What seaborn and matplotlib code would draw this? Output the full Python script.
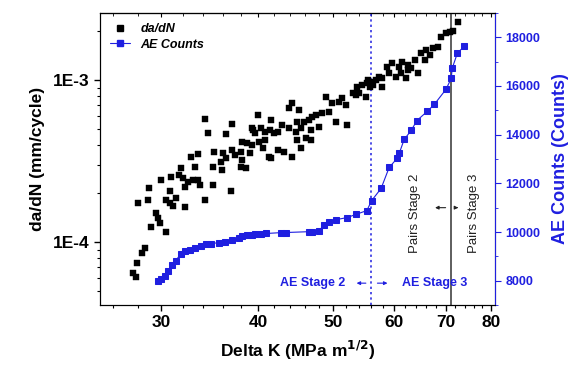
import numpy as np
import pandas as pd
import matplotlib
matplotlib.use("Agg")
import matplotlib.pyplot as plt
import seaborn as sns
from matplotlib.ticker import FixedLocator, FixedFormatter, NullFormatter, LogLocator, MultipleLocator
from matplotlib.lines import Line2D

# crack growth rate data
dk_crack = [27.6, 27.8, 27.9, 28.0, 28.3, 28.6, 28.8, 28.9, 29.1, 29.5, 29.7, 29.9, 30.0, 30.4, 30.45,
            30.8, 30.8, 30.9, 31.1, 31.35, 31.6, 31.8, 32.0, 32.2, 32.2, 32.5, 32.8, 33.0, 33.2, 33.5,
            33.5, 33.7, 34.2, 34.2, 34.5, 35.0, 35.0, 35.1, 35.8, 35.9, 36.0, 36.4, 36.4, 36.9, 37.0,
            37.0, 37.4, 38.0, 38.0, 38.1, 38.1, 38.6, 38.7, 39.1, 39.3, 39.3, 39.4, 39.7, 40.0, 40.1,
            40.4, 40.6, 40.9, 40.9, 41.3, 41.5, 41.6, 41.6, 41.9, 42.5, 42.5, 42.9, 43.2, 43.8, 43.8,
            44.2, 44.2, 44.8, 44.9, 44.9, 45.2, 45.4, 45.4, 45.9, 46.1, 46.6, 46.8, 46.8, 47.0, 47.5,
            48.0, 48.4, 49.0, 49.4, 49.8, 50.5, 50.9, 51.4, 52.0, 52.1, 53.1, 53.5, 53.7, 54.0, 54.5,
            55.1, 55.3, 55.5, 55.9, 56.1, 56.4, 56.8, 57.3, 57.8, 57.8, 58.7, 59.1, 59.6, 60.3, 60.9,
            61.2, 61.4, 62.2, 62.6, 62.6, 63.1, 63.9, 64.4, 65.0, 65.7, 65.9, 66.8, 67.4, 68.4, 69.0,
            70.0, 70.9, 71.5, 72.6]
dadn = [6.5e-5, 6.1e-5, 7.5e-5, 1.74e-4, 8.6e-5, 9.2e-5, 1.82e-4, 2.15e-4, 1.24e-4, 1.51e-4, 1.41e-4,
        1.31e-4, 2.41e-4, 1.15e-4, 1.82e-4, 1.74e-4, 2.06e-4, 2.52e-4, 1.67e-4, 1.87e-4, 2.59e-4,
        2.86e-4, 2.48e-4, 2.19e-4, 1.64e-4, 2.35e-4, 3.35e-4, 2.41e-4, 2.90e-4, 3.49e-4, 2.41e-4,
        2.25e-4, 5.74e-4, 1.82e-4, 4.71e-4, 2.90e-4, 2.25e-4, 3.59e-4, 3.12e-4, 2.78e-4, 3.54e-4,
        4.64e-4, 3.30e-4, 2.06e-4, 5.35e-4, 3.70e-4, 3.44e-4, 3.59e-4, 2.90e-4, 4.14e-4, 3.21e-4,
        2.86e-4, 4.08e-4, 3.54e-4, 5.05e-4, 3.97e-4, 4.91e-4, 4.71e-4, 6.08e-4, 4.14e-4, 5.05e-4,
        3.80e-4, 4.78e-4, 4.26e-4, 3.35e-4, 4.91e-4, 5.66e-4, 3.30e-4, 4.71e-4, 4.78e-4, 3.70e-4,
        5.27e-4, 3.59e-4, 6.72e-4, 5.05e-4, 7.21e-4, 3.35e-4, 4.78e-4, 5.51e-4, 4.26e-4, 6.53e-4,
        5.05e-4, 3.80e-4, 5.51e-4, 4.39e-4, 5.66e-4, 4.91e-4, 4.26e-4, 5.91e-4, 6.08e-4, 5.13e-4,
        6.26e-4, 7.85e-4, 6.35e-4, 7.21e-4, 5.51e-4, 7.32e-4, 7.74e-4, 7.01e-4, 5.27e-4, 8.31e-4,
        8.08e-4, 9.05e-4, 8.31e-4, 9.31e-4, 7.85e-4, 9.58e-4, 1.00e-3, 9.05e-4, 9.72e-4, 9.31e-4,
        1.00e-3, 1.04e-3, 1.03e-3, 9.05e-4, 1.20e-3, 1.10e-3, 1.27e-3, 1.04e-3, 1.20e-3, 1.10e-3,
        1.29e-3, 1.03e-3, 1.24e-3, 1.15e-3, 1.19e-3, 1.33e-3, 1.10e-3, 1.47e-3, 1.33e-3, 1.53e-3,
        1.43e-3, 1.58e-3, 1.60e-3, 1.84e-3, 1.95e-3, 1.98e-3, 2.01e-3, 2.28e-3]

# acoustic emission cumulative counts
dk_ae = [29.7, 30.0, 30.3, 30.6, 31.0, 31.3, 31.8, 32.2, 32.7, 33.2, 33.8, 34.3, 34.8, 35.6, 36.3,
         37.0, 37.8, 38.1, 38.7, 39.3, 39.7, 40.3, 41.0, 42.8, 43.5, 46.6, 47.0, 48.0, 48.7, 49.4,
         50.5, 52.1, 53.5, 55.3, 56.1, 57.7, 59.1, 60.5, 60.9, 61.8, 63.1, 64.2, 66.2, 67.6, 70.0,
         71.1, 71.3, 72.4, 73.9]
ae_counts = [8000, 8080, 8210, 8410, 8660, 8820, 9110, 9235, 9275, 9360, 9440, 9520, 9525, 9565, 9605,
             9690, 9770, 9850, 9890, 9895, 9930, 9935, 9940, 9975, 9980, 10015, 10020, 10060, 10300,
             10430, 10510, 10590, 10720, 10880, 11290, 11790, 12650, 13020, 13230, 13800, 14170, 14580,
             14955, 15240, 15860, 16310, 16720, 17340, 17630]

x_ticks = [30, 40, 50, 60, 70, 80]
y_ticks = [1e-4, 1e-3]
y_labels = ["1E-4", "1E-3"]
ae_ticks = [8000, 10000, 12000, 14000, 16000, 18000]

ae_line = 56
pairs_line = 71

blue = "#1f1fe0"

sns.set_style("ticks")
plt.rcParams["font.family"] = ["Liberation Sans", "DejaVu Sans"]
plt.rcParams["font.weight"] = "bold"
for key in ["text.color", "axes.labelcolor", "xtick.color", "ytick.color", "axes.edgecolor"]:
    plt.rcParams[key] = "black"

crack = pd.DataFrame({"dk": dk_crack, "dadn": dadn})
ae = pd.DataFrame({"dk": dk_ae, "counts": ae_counts})

fig = plt.figure(figsize=(5.69, 3.68), dpi=100)
ax = fig.add_axes([0.176, 0.171, 0.694, 0.794])

sns.scatterplot(data=crack, x="dk", y="dadn", marker="s", color="black", s=24,
                edgecolor="black", linewidth=0.3, ax=ax, zorder=3)
ax.set_xscale("log")
ax.set_yscale("log")
ax.set_xlim(25, 81)
ax.set_ylim(4.1e-5, 2.6e-3)

ax.xaxis.set_major_locator(FixedLocator(x_ticks))
ax.xaxis.set_major_formatter(FixedFormatter([str(t) for t in x_ticks]))
ax.xaxis.set_minor_locator(FixedLocator([t for t in range(26, 81, 2) if t % 10]))
ax.xaxis.set_minor_formatter(NullFormatter())
ax.yaxis.set_major_locator(FixedLocator(y_ticks))
ax.yaxis.set_major_formatter(FixedFormatter(y_labels))
ax.yaxis.set_minor_locator(LogLocator(base=10, subs=np.arange(2, 10)))
ax.yaxis.set_minor_formatter(NullFormatter())

ax.tick_params(axis="both", which="major", labelsize=12.5, length=4, width=1, direction="out")
ax.tick_params(axis="both", which="minor", length=2, width=0.8, direction="out")
for lab in ax.get_xticklabels() + ax.get_yticklabels():
    lab.set_fontweight("bold")

top = ax.secondary_xaxis("top")
top.xaxis.set_major_locator(FixedLocator(x_ticks))
top.xaxis.set_minor_locator(FixedLocator([t for t in range(26, 81, 2) if t % 10]))
top.tick_params(which="both", direction="in", labeltop=False, length=3)
top.tick_params(which="minor", length=2)

ax.set_xlabel("Delta K (MPa m$^{\\mathbf{1/2}}$)", fontsize=12.5, fontweight="bold", labelpad=6)
ax.set_ylabel("da/dN (mm/cycle)", fontsize=12.5, fontweight="bold", labelpad=6)

ax.axvline(ae_line, color=blue, ls=(0, (1.5, 2)), lw=1.1, zorder=1)
ax.axvline(pairs_line, color="#333333", lw=1.1, zorder=1)

ax2 = ax.twinx()
sns.lineplot(data=ae, x="dk", y="counts", marker="s", color=blue, lw=0.8, markersize=4.5,
             markeredgecolor=blue, estimator=None, sort=False, ax=ax2, zorder=3)
ax2.set_ylim(7000, 19000)
ax2.yaxis.set_major_locator(FixedLocator(ae_ticks))
ax2.yaxis.set_minor_locator(MultipleLocator(1000))
ax2.tick_params(axis="y", which="major", colors=blue, labelsize=9, length=4, direction="out")
ax2.tick_params(axis="y", which="minor", colors=blue, length=2, direction="out")
for lab in ax2.get_yticklabels():
    lab.set_fontweight("bold")
ax2.spines["right"].set_color(blue)
ax2.set_ylabel("AE Counts (Counts)", color=blue, fontsize=13, fontweight="bold", labelpad=8)
ax2.set_xlabel("")

# stage annotations
ax2.text(47.0, 7920, "AE Stage 2", color=blue, fontsize=9, fontweight="bold", ha="center", va="center")
ax2.text(67.6, 7920, "AE Stage 3", color=blue, fontsize=9, fontweight="bold", ha="center", va="center")
ax2.annotate("", xy=(53.2, 7900), xytext=(55.6, 7900),
             arrowprops=dict(arrowstyle="-|>", color=blue, lw=0.8, mutation_scale=5))
ax2.annotate("", xy=(59.3, 7900), xytext=(56.6, 7900),
             arrowprops=dict(arrowstyle="-|>", color=blue, lw=0.8, mutation_scale=5))
ax2.text(63.8, 10750, "Pairs Stage 2", color="#222222", fontsize=9.5, fontweight="normal",
         rotation=90, ha="center", va="center")
ax2.text(76.0, 10750, "Pairs Stage 3", color="#222222", fontsize=9.5, fontweight="normal",
         rotation=90, ha="center", va="center")
ax2.annotate("", xy=(67.2, 11000), xytext=(70.5, 11000),
             arrowprops=dict(arrowstyle="-|>", color="#222222", lw=0.8, mutation_scale=5))
ax2.annotate("", xy=(73.2, 11000), xytext=(71.5, 11000),
             arrowprops=dict(arrowstyle="-|>", color="#222222", lw=0.8, mutation_scale=5))

handles = [Line2D([], [], marker="s", color="black", ls="none", markersize=5),
           Line2D([], [], marker="s", color=blue, lw=0.8, markersize=4.5)]
leg = ax.legend(handles, ["da/dN", "AE Counts"], loc="upper left", frameon=False,
                prop={"size": 9, "weight": "bold", "style": "italic"},
                handlelength=1.6, borderaxespad=0.4, labelspacing=0.3)

fig.savefig("out.png", dpi=100)
